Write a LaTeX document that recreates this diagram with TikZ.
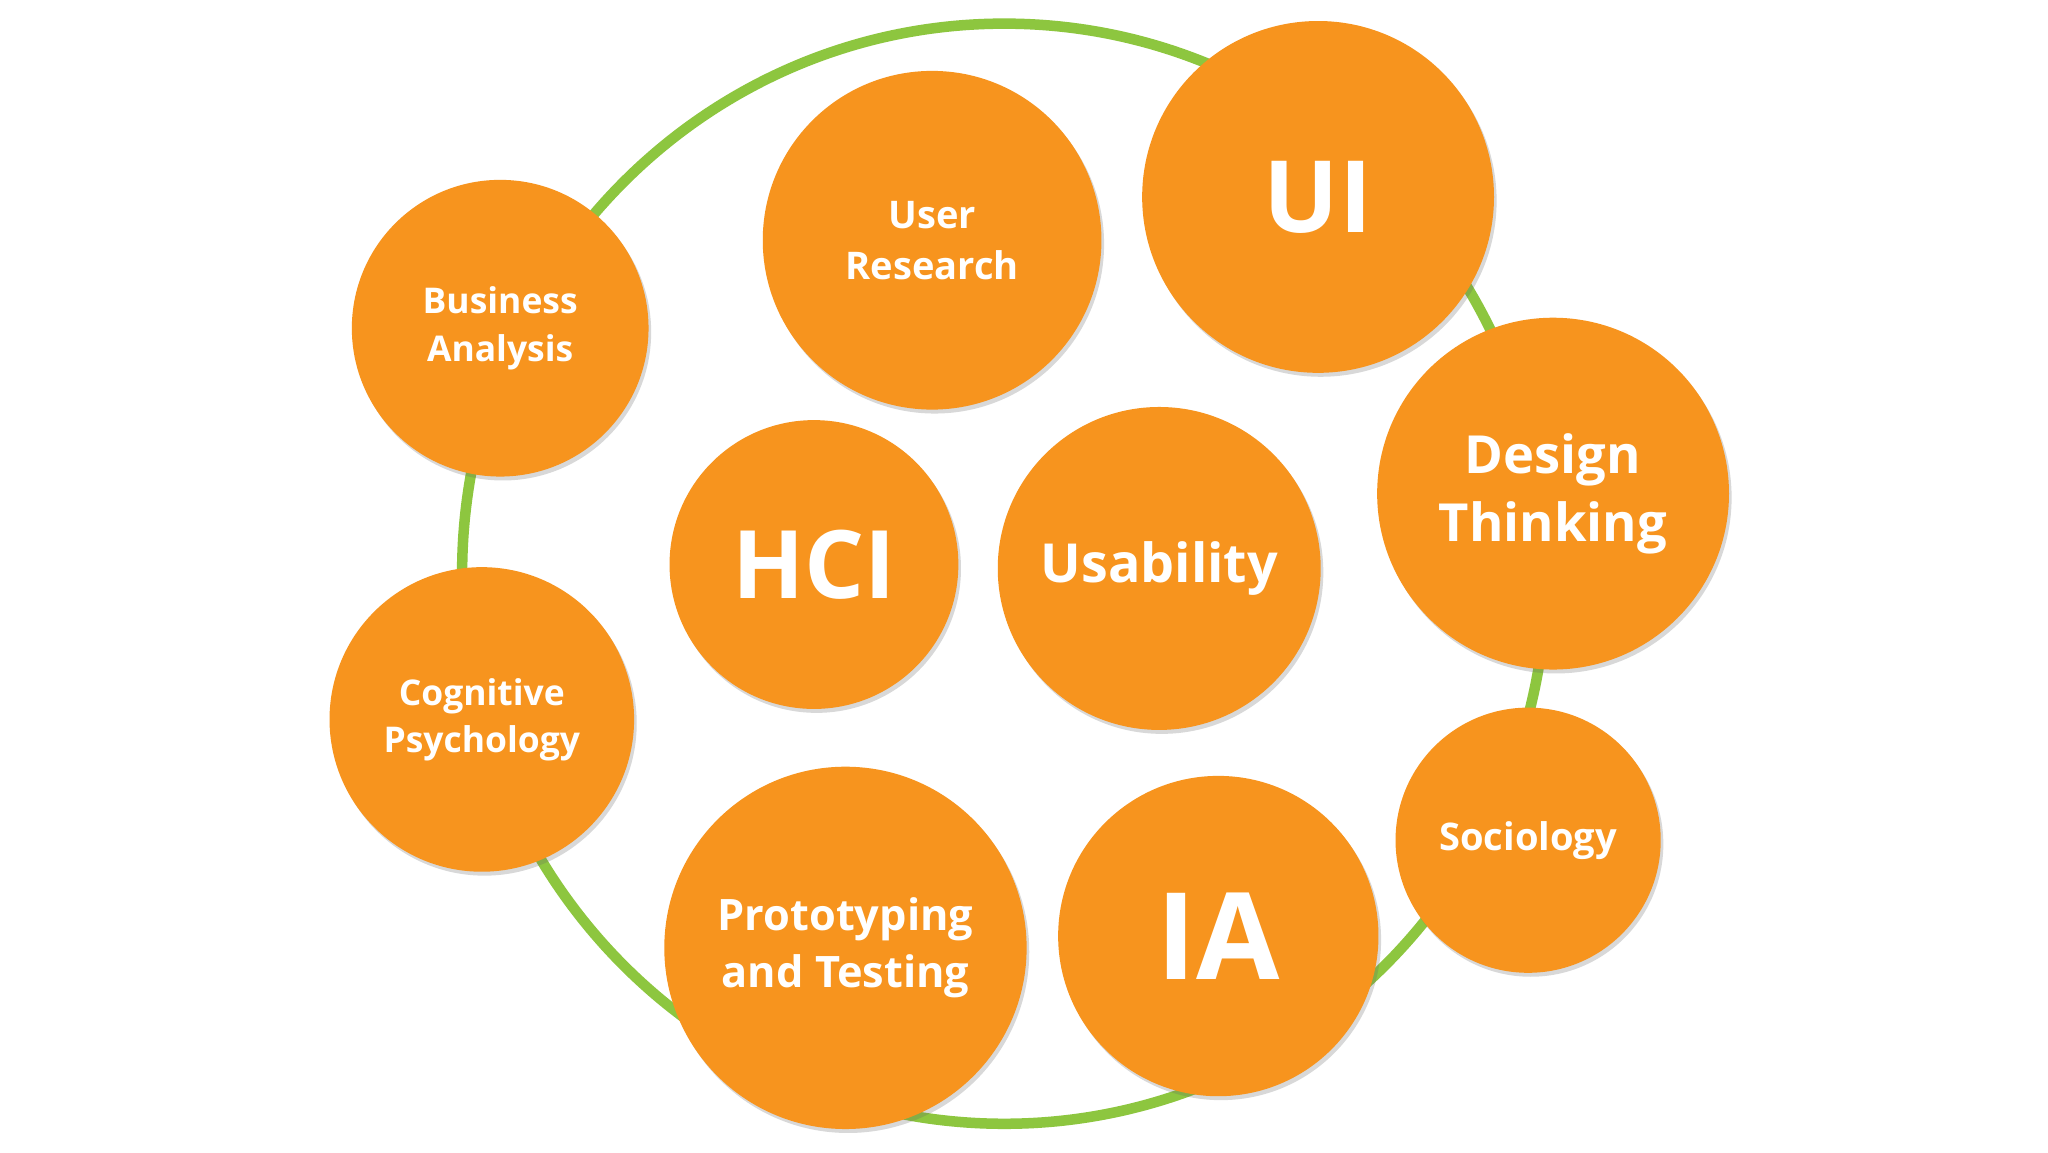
\documentclass[tikz,border=0pt]{standalone}
\usepackage{fontspec}
\setmainfont{Open Sans}[BoldFont={* Bold}]
\usetikzlibrary{shadows}
\definecolor{org}{HTML}{F7941E}
\definecolor{grn}{HTML}{8DC63F}
\tikzset{bub/.style={circle,fill=org,text=white,align=center,inner sep=0pt,
  drop shadow={shadow xshift=2pt,shadow yshift=-3pt,opacity=0.25,fill=black!60}}}
\newcommand{\fs}[2]{\fontsize{#1}{#2}\selectfont\bfseries}
\begin{document}
\begin{tikzpicture}[x=1pt,y=-1pt]
\useasboundingbox[fill=white] (0,0) rectangle (1560,878);
\draw[grn,line width=8pt] (765,437) ellipse [x radius=413, y radius=419];
\node[bub,minimum size=226pt,font=\fs{27}{36}] (ba) at (381,250) {Business\\Analysis};
\node[bub,minimum size=258pt,font=\fs{29}{39}] (ur) at (710,183) {User\\Research};
\node[bub,minimum size=268pt,font=\fs{76}{90}] (ui) at (1004,150) {UI};
\node[bub,minimum size=268pt,font=\fs{40}{52}] (dt) at (1183,376) {Design\\Thinking};
\node[bub,minimum size=220pt,font=\fs{72}{90}] (hci) at (620,430) {HCI};
\node[bub,minimum size=246pt,font=\fs{41}{52}] (us) at (883,433) {Usability};
\node[bub,minimum size=232pt,font=\fs{27}{36}] (cp) at (367,548) {Cognitive\\Psychology};
\node[bub,minimum size=202pt,font=\fs{29}{38}] (so) at (1164,640) {Sociology};
\node[bub,minimum size=276pt,font=\fs{33}{43}] (pt) at (644,722) {Prototyping\\and Testing};
\node[bub,minimum size=244pt,font=\fs{92}{110}] (ia) at (928,713) {IA};
\end{tikzpicture}
\end{document}
